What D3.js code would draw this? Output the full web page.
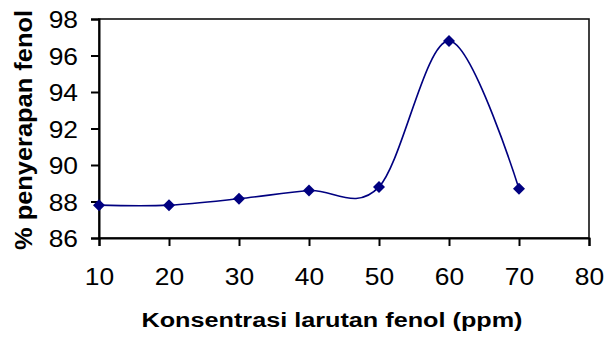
<!DOCTYPE html>
<html>
<head>
<meta charset="utf-8">
<script src="https://cdn.jsdelivr.net/npm/d3@7"></script>
<style>
  body { margin: 0; background: #fff; }
  text { font-family: "Liberation Sans", Arial, sans-serif; fill: #000; }
</style>
</head>
<body>
<div id="chart"></div>
<script>
const concentration = [10, 20, 30, 40, 50, 60, 70];
const absorption = [87.8, 87.8, 88.15, 88.6, 88.8, 96.8, 88.7];
const xTicks = [10, 20, 30, 40, 50, 60, 70, 80];
const yTicks = [86, 88, 90, 92, 94, 96, 98];

const width = 604, height = 342;
const margin = { top: 19, right: 15, bottom: 104, left: 99 };

const svg = d3.select('#chart').append('svg')
    .attr('width', width).attr('height', height);

const x = d3.scaleLinear().domain([10, 80]).range([margin.left, width - margin.right]);
const y = d3.scaleLinear().domain([86, 98]).range([height - margin.bottom, margin.top]);

// plot frame (top / right)
svg.append('rect')
    .attr('x', x(10)).attr('y', y(98))
    .attr('width', x(80) - x(10)).attr('height', y(86) - y(98))
    .attr('fill', 'none').attr('stroke', '#111').attr('stroke-width', 1.6);

const xAxis = svg.append('g')
    .attr('transform', `translate(0,${y(86)})`)
    .call(d3.axisBottom(x).tickValues(xTicks).tickSize(8).tickPadding(22));
const yAxis = svg.append('g')
    .attr('transform', `translate(${x(10)},0)`)
    .call(d3.axisLeft(y).tickValues(yTicks).tickSize(8).tickPadding(13));

// the picture is a bit wider than tall, so stretch text sideways
function stretch(sel, k) {
    sel.each(function () {
        const w = this.getComputedTextLength();
        d3.select(this).attr('textLength', w * k).attr('lengthAdjust', 'spacingAndGlyphs');
    });
}

[xAxis, yAxis].forEach(g => {
    g.select('.domain').attr('stroke', '#000').attr('stroke-width', 2);
    g.selectAll('.tick line').attr('stroke', '#000').attr('stroke-width', 2);
    g.selectAll('.tick text').attr('font-size', 24).attr('font-family', '"Liberation Sans", Arial, sans-serif');
    stretch(g.selectAll('.tick text'), 1.1);
});
yAxis.selectAll('.tick text').attr('dy', '0.36em');

const line = d3.line()
    .x((d, i) => x(concentration[i]))
    .y(d => y(d))
    .curve(d3.curveCardinal.tension(0));

svg.append('path')
    .datum(absorption)
    .attr('d', line)
    .attr('fill', 'none')
    .attr('stroke', '#000080')
    .attr('stroke-width', 1.6);

svg.selectAll('.marker')
    .data(absorption)
    .join('path')
    .attr('class', 'marker')
    .attr('transform', (d, i) => `translate(${x(concentration[i])},${y(d)})`)
    .attr('d', 'M0,-6L6,0L0,6L-6,0Z')
    .attr('fill', '#000080');

svg.append('text')
    .attr('x', 332)
    .attr('y', 327)
    .attr('text-anchor', 'middle')
    .attr('font-size', 20)
    .attr('font-weight', 'bold')
    .attr('textLength', 381)
    .attr('lengthAdjust', 'spacingAndGlyphs')
    .text('Konsentrasi larutan fenol (ppm)');

svg.append('text')
    .attr('transform', `translate(32,130) rotate(-90)`)
    .attr('text-anchor', 'middle')
    .attr('font-size', 24)
    .attr('font-weight', 'bold')
    .attr('textLength', 240)
    .attr('lengthAdjust', 'spacingAndGlyphs')
    .text('% penyerapan fenol');
</script>
</body>
</html>
